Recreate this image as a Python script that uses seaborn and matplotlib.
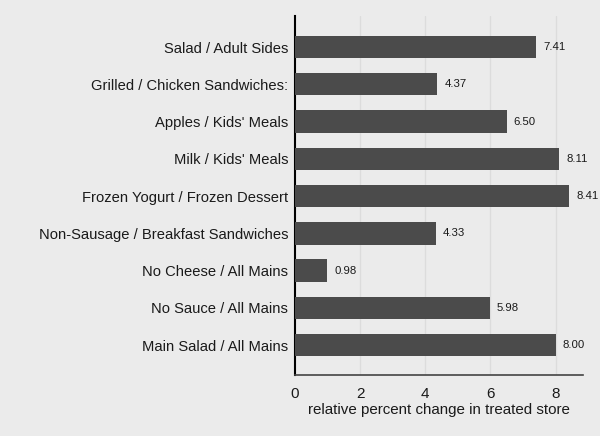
import matplotlib
matplotlib.use("Agg")
import matplotlib.pyplot as plt
import seaborn as sns
import pandas as pd

# data
categories = [
    "Salad / Adult Sides",
    "Grilled / Chicken Sandwiches:",
    "Apples / Kids' Meals",
    "Milk / Kids' Meals",
    "Frozen Yogurt / Frozen Dessert",
    "Non-Sausage / Breakfast Sandwiches",
    "No Cheese / All Mains",
    "No Sauce / All Mains",
    "Main Salad / All Mains",
]
values = [7.41, 4.37, 6.50, 8.11, 8.41, 4.33, 0.98, 5.98, 8.00]
x_ticks = [0, 2, 4, 6, 8]

df = pd.DataFrame({"category": categories, "value": values})

sns.set_style("white")
plt.rcParams["font.family"] = ["Liberation Sans", "DejaVu Sans"]

bg = "#ebebeb"
fig = plt.figure(figsize=(6, 4.36), dpi=100, facecolor=bg)
ax = fig.add_axes([0.4917, 0.14, 0.4803, 0.823])
ax.set_facecolor(bg)

sns.barplot(data=df, x="value", y="category", color="#4b4b4b", width=0.6,
            saturation=1, linewidth=0, edgecolor="none", ax=ax, zorder=3)

# value labels to the right of each bar
for i, v in enumerate(values):
    ax.text(v + 0.22, i, f"{v:.2f}", va="center", ha="left", fontsize=8.2,
            color="#1a1a1a")

ax.set_xlim(0, 8.85)
ax.set_ylim(8.8, -0.83)
ax.set_xticks(x_ticks)
ax.set_xticklabels([str(t) for t in x_ticks], fontsize=11)
for t in x_ticks[1:]:
    ax.axvline(t, color="#dcdcdc", lw=1.0, zorder=1)

ax.set_xlabel("relative percent change in treated store", fontsize=10.9,
              labelpad=1, color="#1a1a1a")
ax.set_ylabel("")
ax.tick_params(axis="y", length=0, labelsize=10.6, pad=5, labelcolor="#1a1a1a")
ax.tick_params(axis="x", length=6, width=1.0, color="#333333", pad=3,
               labelcolor="#1a1a1a")

for s in ["top", "right"]:
    ax.spines[s].set_visible(False)
ax.spines["left"].set_color("black")
ax.spines["left"].set_linewidth(1.5)
ax.spines["bottom"].set_color("#444444")
ax.spines["bottom"].set_linewidth(1.2)

fig.savefig("out.png", dpi=100, facecolor=bg)
